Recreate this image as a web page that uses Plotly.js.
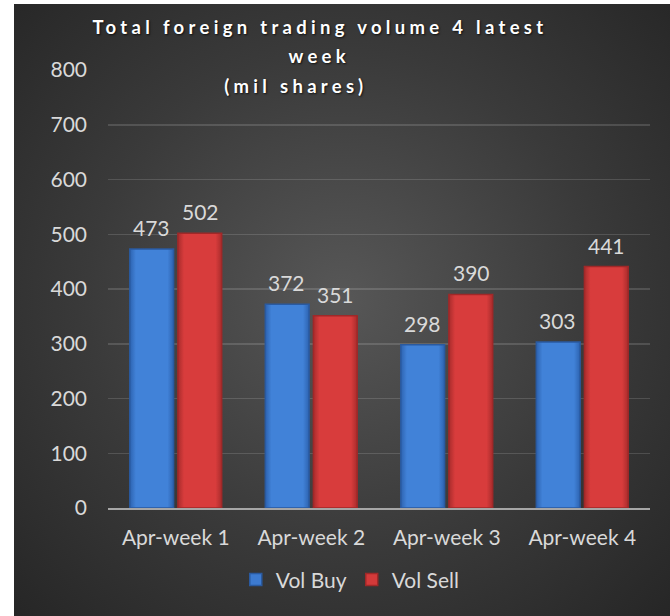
<!DOCTYPE html>
<html>
<head>
<meta charset="utf-8">
<script src="https://cdn.plot.ly/plotly-3.0.1.min.js"></script>
<style>
  html, body { margin: 0; padding: 0; background: #ffffff; }
  #wrap { position: relative; width: 670px; height: 616px; }
  #bg { position: absolute; left: 14px; top: 4px; width: 656px; height: 612px;
        background: radial-gradient(ellipse farthest-corner at 50% 48%, #575757 0%, #3a3a3a 55%, #262626 100%); }
  #chart { position: absolute; left: 0; top: 0; width: 670px; height: 616px; }
  .annotation[data-index="0"] text, .annotation[data-index="1"] text, .annotation[data-index="2"] text {
    letter-spacing: 4.3px; text-shadow: 1px 1px 2px rgba(0,0,0,0.7);
  }
</style>
</head>
<body>
<div id="wrap">
  <div id="bg"></div>
  <div id="chart"></div>
</div>
<script>
const categories = ["Apr-week 1", "Apr-week 2", "Apr-week 3", "Apr-week 4"];
const volBuy = [473, 372, 298, 303];
const volSell = [502, 351, 390, 441];
const seriesNames = ["Vol Buy", "Vol Sell"];
const yTicks = [0, 100, 200, 300, 400, 500, 600, 700, 800];
const titleLines = ["Total foreign trading volume 4 latest", "week", "(mil shares)"];

const labelFont = { family: "Lato, sans-serif", size: 21, color: "#d9d9d9" };

const traces = [
  {
    type: "bar", name: seriesNames[0], x: categories, y: volBuy,
    marker: { color: "#3d7bd1", line: { color: "#2a5aa0", width: 1.5 } }
  },
  {
    type: "bar", name: seriesNames[1], x: categories, y: volSell,
    marker: { color: "#d33a3a", line: { color: "#a02828", width: 1.5 } }
  }
];

const titleFont = { family: "Lato, sans-serif", size: 18.5, color: "#ffffff", weight: "bold" };
const annotations = [
  { text: "<b>" + titleLines[0] + "</b>", xref: "paper", yref: "paper", x: 0.392, y: 1.098,
    xanchor: "center", yanchor: "middle", showarrow: false, font: titleFont },
  { text: "<b>" + titleLines[1] + "</b>", xref: "paper", yref: "paper", x: 0.39, y: 1.032,
    xanchor: "center", yanchor: "middle", showarrow: false, font: titleFont },
  { text: "<b>" + titleLines[2] + "</b>", xref: "paper", yref: "paper", x: 0.346, y: 0.963,
    xanchor: "center", yanchor: "middle", showarrow: false, font: titleFont }
];
// value labels above each bar, positioned by the axes
[volBuy, volSell].forEach(function (vals, s) {
  vals.forEach(function (v, i) {
    annotations.push({
      text: String(v), x: categories[i], y: v, xref: "x", yref: "y",
      xshift: s === 0 ? -24.5 : 24.5, yshift: 7, yanchor: "bottom", xanchor: "center",
      showarrow: false, font: labelFont
    });
  });
});

const layout = {
  width: 670, height: 616,
  paper_bgcolor: "rgba(0,0,0,0)", plot_bgcolor: "rgba(0,0,0,0)",
  margin: { l: 108, r: 20, t: 70, b: 108 },
  barmode: "group", bargap: 0.29, bargroupgap: 0.09,
  font: labelFont,
  showlegend: true,
  legend: { orientation: "h", x: 0.447, xanchor: "center", y: -0.164, yanchor: "middle",
            font: labelFont, bgcolor: "rgba(0,0,0,0)", itemwidth: 30 },
  xaxis: { type: "category", showgrid: false, showline: true, linecolor: "#a6a6a6", linewidth: 2,
           ticks: "", tickfont: labelFont, ticklabelstandoff: 10, fixedrange: true },
  yaxis: { range: [0, 800], tickvals: yTicks, ticktext: yTicks.map(String),
           showgrid: true, gridcolor: "rgba(255,255,255,0.14)", gridwidth: 1.5,
           zeroline: false, showline: false, ticks: "", tickfont: labelFont,
           ticklabelstandoff: 20, fixedrange: true },
  annotations: annotations
};

Plotly.newPlot("chart", traces, layout, { displayModeBar: false, staticPlot: true }).then(function (gd) {
  // bevel-like shading on the bars drawn by Plotly
  const svg = gd.querySelector("svg.main-svg");
  const NS = "http://www.w3.org/2000/svg";
  let defs = svg.querySelector("defs");
  if (!defs) { defs = document.createElementNS(NS, "defs"); svg.insertBefore(defs, svg.firstChild); }
  function addGrad(id, edge, mid) {
    const g = document.createElementNS(NS, "linearGradient");
    g.setAttribute("id", id); g.setAttribute("x1", "0"); g.setAttribute("x2", "1");
    g.setAttribute("y1", "0"); g.setAttribute("y2", "0");
    [[0, edge], [0.14, mid], [0.86, mid], [1, edge]].forEach(function (st) {
      const s = document.createElementNS(NS, "stop");
      s.setAttribute("offset", st[0]); s.setAttribute("stop-color", st[1]);
      g.appendChild(s);
    });
    defs.appendChild(g);
  }
  addGrad("gBuy", "#2d63b0", "#4182d8");
  addGrad("gSell", "#a92c2c", "#d83c3c");
  const groups = gd.querySelectorAll(".barlayer .trace");
  groups.forEach(function (tr, idx) {
    tr.querySelectorAll("path").forEach(function (p) {
      p.style.fill = "url(#" + (idx === 0 ? "gBuy" : "gSell") + ")";
    });
  });
});
</script>
</body>
</html>
